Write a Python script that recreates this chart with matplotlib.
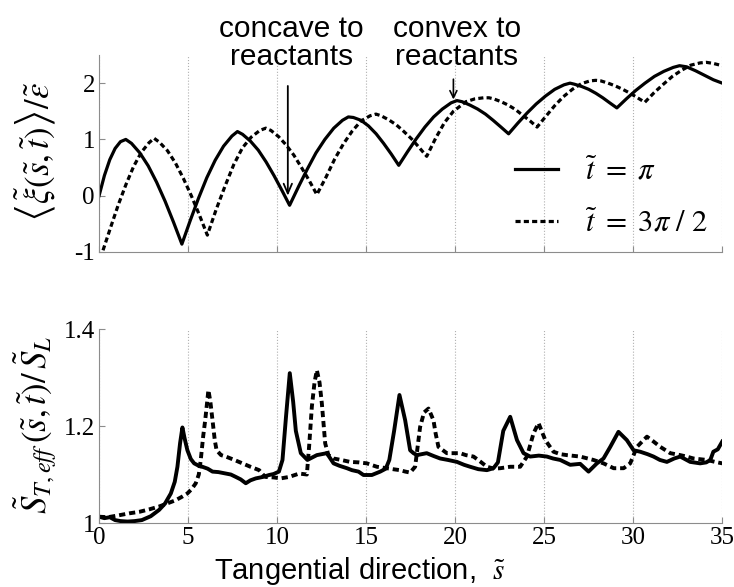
import matplotlib
matplotlib.use('Agg')
import matplotlib.pyplot as plt

plt.rcParams['font.family'] = ['Liberation Serif', 'DejaVu Serif']
plt.rcParams['mathtext.fontset'] = 'stix'
plt.rcParams['axes.unicode_minus'] = False

# top panel: mean flame displacement, t = pi (solid) and t = 3pi/2 (dashed)
s_top_pi = [0, 0.3, 0.6, 0.9, 1.2, 1.5, 1.82, 2.29, 2.76, 3.23, 3.71, 4.18, 4.65,
            5.12, 5.59, 6.05, 6.52, 6.99, 7.46, 7.77, 8.06, 8.50, 8.94, 9.38, 9.82,
            10.26, 10.7, 11.20, 11.69, 12.18, 12.68, 13.18, 13.67, 14.0, 14.28, 14.71,
            15.13, 15.56, 15.98, 16.41, 16.83, 17.32, 17.81, 18.30, 18.79, 19.28, 19.77,
            20.1, 20.39, 20.83, 21.26, 21.70, 22.13, 22.57, 23.0, 23.52, 24.04, 24.55,
            25.07, 25.59, 26.11, 26.45, 26.71, 27.11, 27.50, 27.90, 28.29, 28.68, 29.08,
            29.61, 30.14, 30.66, 31.19, 31.72, 32.25, 32.6, 33.0, 33.5, 34.0, 34.5, 35]
xi_top_pi = [0.0, 0.36, 0.64, 0.84, 0.96, 1.0, 0.93, 0.76, 0.53, 0.24, -0.10, -0.47, -0.86,
             -0.44, -0.04, 0.32, 0.63, 0.88, 1.06, 1.14, 1.09, 0.97, 0.81, 0.60, 0.36,
             0.10, -0.17, 0.16, 0.47, 0.76, 1.00, 1.20, 1.34, 1.40, 1.39, 1.34,
             1.24, 1.10, 0.93, 0.74, 0.54, 0.78, 1.01, 1.22, 1.40, 1.54, 1.65,
             1.69, 1.67, 1.61, 1.54, 1.45, 1.34, 1.22, 1.10, 1.29, 1.47, 1.63,
             1.77, 1.89, 1.97, 2.0, 1.98, 1.94, 1.89, 1.82, 1.74, 1.65, 1.56,
             1.72, 1.87, 2.00, 2.12, 2.21, 2.28, 2.31, 2.29, 2.22, 2.14, 2.06, 2.0]

s_top_3pi2 = [0.22, 0.65, 1.08, 1.51, 1.94, 2.37, 2.80, 3.09, 3.39, 3.84, 4.29, 4.73, 5.18,
              5.63, 6.08, 6.57, 7.06, 7.56, 8.05, 8.54, 9.03, 9.36, 9.65, 10.08, 10.51,
              10.94, 11.37, 11.80, 12.23, 12.73, 13.23, 13.72, 14.22, 14.72, 15.22, 15.55,
              15.84, 16.26, 16.69, 17.12, 17.55, 17.97, 18.4, 18.9, 19.4, 19.9, 20.6, 21.1,
              21.6, 21.9, 22.17, 22.58, 22.98, 23.39, 23.79, 24.20, 24.6, 25.09, 25.59,
              26.08, 26.58, 27.08, 27.57, 27.9, 28.18, 28.59, 29.00, 29.41, 29.83, 30.24,
              30.65, 31.17, 31.69, 32.20, 32.72, 33.24, 33.76, 34.1, 34.5, 35]
xi_top_3pi2 = [-0.97, -0.56, -0.16, 0.20, 0.52, 0.77, 0.94, 1.02, 0.95, 0.80, 0.58, 0.31, 0.00,
               -0.34, -0.70, -0.25, 0.16, 0.55, 0.85, 1.04, 1.16, 1.20, 1.16, 1.05, 0.90,
               0.72, 0.50, 0.27, 0.02, 0.32, 0.65, 0.92, 1.15, 1.33, 1.42, 1.45,
               1.42, 1.35, 1.26, 1.14, 1.01, 0.86, 0.70, 1.02, 1.30, 1.50, 1.67, 1.72,
               1.74, 1.74, 1.72, 1.67, 1.61, 1.53, 1.43, 1.33, 1.22, 1.41, 1.60,
               1.76, 1.89, 1.99, 2.04, 2.05, 2.04, 2.00, 1.95, 1.89, 1.82, 1.74,
               1.66, 1.83, 1.98, 2.12, 2.23, 2.32, 2.36, 2.37, 2.35, 2.31]

# bottom panel: effective turbulent flame speed ratio
s_bot_pi = [0, 0.3, 0.6, 0.9, 1.2, 1.6, 2.0, 2.4, 2.9, 3.37,
            3.7, 4.03, 4.25, 4.4, 4.55, 4.68, 4.8, 4.96, 5.15, 5.34,
            5.6, 5.8, 6.1, 6.37, 6.7, 7.12, 7.4, 7.68, 7.95, 8.24,
            8.5, 8.8, 9.2, 9.55, 9.8, 10.1, 10.3, 10.5, 10.71, 10.9,
            11.05, 11.33, 11.7, 12.23, 12.79, 13.17, 13.5, 13.92, 14.2, 14.57,
            14.85, 15.32, 15.79, 16.1, 16.3, 16.57, 16.87, 17.19, 17.47, 17.66,
            17.85, 18.4, 18.8, 19.16, 19.6, 20.1, 20.5, 20.84, 21.3, 21.78,
            22.15, 22.4, 22.7, 23.09, 23.47, 23.84, 24.21, 24.7, 25.15, 25.5,
            25.9, 26.46, 27.02, 27.49, 27.96, 28.33, 28.71, 29.17, 29.64, 30.02,
            30.39, 30.8, 31.14, 31.5, 31.89, 32.3, 32.64, 33.2, 33.76, 34.1,
            34.33, 34.5, 34.75, 35]
S_bot_pi = [1.013, 1.010, 1.012, 1.006, 1.004, 1.003, 1.004, 1.006, 1.014, 1.027,
            1.040, 1.061, 1.085, 1.116, 1.165, 1.197, 1.175, 1.150, 1.132, 1.123,
            1.118, 1.116, 1.112, 1.106, 1.105, 1.102, 1.100, 1.095, 1.090, 1.082,
            1.088, 1.092, 1.095, 1.099, 1.101, 1.106, 1.130, 1.220, 1.309, 1.250,
            1.190, 1.144, 1.130, 1.140, 1.144, 1.123, 1.118, 1.113, 1.109, 1.106,
            1.099, 1.099, 1.106, 1.112, 1.130, 1.190, 1.264, 1.212, 1.150, 1.144,
            1.140, 1.144, 1.138, 1.133, 1.130, 1.126, 1.120, 1.116, 1.111, 1.109,
            1.113, 1.125, 1.190, 1.219, 1.171, 1.144, 1.137, 1.139, 1.137, 1.133,
            1.130, 1.120, 1.122, 1.106, 1.123, 1.133, 1.157, 1.188, 1.171, 1.150,
            1.147, 1.142, 1.137, 1.130, 1.126, 1.133, 1.137, 1.126, 1.123, 1.125,
            1.130, 1.147, 1.152, 1.168]

s_bot_3pi2 = [0, 0.5, 1.12, 1.7, 2.25, 2.8, 3.37, 3.8, 4.3, 4.65,
              4.96, 5.2, 5.43, 5.6, 5.71, 5.85, 5.96, 6.14, 6.25, 6.37,
              6.5, 6.6, 6.85, 7.12, 7.6, 8.05, 8.5, 8.99, 9.2, 9.36,
              9.8, 10.2, 10.67, 11.24, 11.67, 11.8, 11.95, 12.1, 12.23, 12.38,
              12.51, 12.7, 12.88, 13.17, 13.6, 14.1, 14.6, 15.04, 15.6, 16.16,
              16.5, 16.9, 17.2, 17.47, 17.75, 17.9, 18.03, 18.25, 18.5, 18.78,
              18.9, 19.06, 19.53, 20.28, 20.6, 21.03, 21.4, 21.78, 22.2, 22.53,
              23.09, 23.65, 24.03, 24.4, 24.68, 25.06, 25.52, 25.9, 26.27, 27.02,
              27.77, 28.33, 28.9, 29.46, 29.83, 30.21, 30.5, 30.77, 31.14, 31.52,
              32.08, 32.64, 33.0, 33.39, 34.14, 34.6, 35]
S_bot_3pi2 = [1.013, 1.012, 1.016, 1.020, 1.023, 1.028, 1.034, 1.040, 1.047, 1.054,
              1.061, 1.070, 1.082, 1.100, 1.130, 1.180, 1.212, 1.274, 1.250, 1.212,
              1.170, 1.150, 1.140, 1.137, 1.130, 1.123, 1.116, 1.109, 1.100, 1.095,
              1.094, 1.092, 1.095, 1.102, 1.100, 1.160, 1.240, 1.290, 1.315, 1.290,
              1.247, 1.164, 1.140, 1.133, 1.130, 1.126, 1.125, 1.123, 1.116, 1.113,
              1.111, 1.109, 1.106, 1.104, 1.116, 1.160, 1.198, 1.228, 1.236, 1.212,
              1.185, 1.157, 1.144, 1.144, 1.140, 1.137, 1.127, 1.116, 1.112, 1.113,
              1.116, 1.116, 1.137, 1.185, 1.206, 1.171, 1.147, 1.142, 1.140, 1.137,
              1.130, 1.123, 1.113, 1.113, 1.123, 1.157, 1.168, 1.178, 1.168, 1.157,
              1.144, 1.140, 1.137, 1.133, 1.130, 1.126, 1.123]

DASH = (0, (1.6, 1.0))
GRAY = '#8c8c8c'


def style(ax):
    for side in ('top', 'right'):
        ax.spines[side].set_visible(False)
    for side in ('left', 'bottom'):
        ax.spines[side].set_color(GRAY)
    ax.tick_params(direction='in', length=4, color=GRAY, labelsize=18, pad=3)
    ax.set_xlim(0, 35)
    ax.set_xticks(range(0, 36, 5))
    ax.grid(axis='x', ls=':', color='#b0b0b0', lw=0.8)
    ax.set_axisbelow(True)


fig = plt.figure(figsize=(7.34, 5.87), dpi=100)
ax1 = fig.add_axes([0.135, 0.5707, 0.849, 0.3356])
ax2 = fig.add_axes([0.135, 0.109, 0.849, 0.3305])

style(ax1)
ax1.plot(s_top_pi, xi_top_pi, color='k', lw=2.3, label=r'$\tilde{t}\ =\ \pi$')
ax1.plot(s_top_3pi2, xi_top_3pi2, color='k', lw=2.3, ls=DASH,
         label=r'$\tilde{t}\ =\ 3\pi\ /\ 2$')
ax1.set_ylim(-1, 2.5)
ax1.set_yticks([-1, 0, 1, 2])
ax1.tick_params(axis='x', labelbottom=False)
ax1.legend(loc='lower right', bbox_to_anchor=(1.0, 0.0), frameon=False, fontsize=22,
           handlelength=1.4, handletextpad=0.9, labelspacing=0.75, borderaxespad=0.05)

ax1.annotate('', xy=(10.6, 0.0), xytext=(10.6, 1.95),
             arrowprops=dict(arrowstyle='->,head_length=0.7,head_width=0.3', lw=1.3,
                             color='k', shrinkA=0, shrinkB=0))
ax1.text(10.8, 2.22, 'concave to\nreactants', ha='center', va='bottom', fontsize=21.5,
         family='Liberation Sans', linespacing=1.0, clip_on=False)
ax1.annotate('', xy=(19.9, 1.71), xytext=(19.9, 2.07),
             arrowprops=dict(arrowstyle='->,head_length=0.5,head_width=0.25', lw=1.2,
                             color='k', shrinkA=0, shrinkB=0))
ax1.text(20.1, 2.22, 'convex to\nreactants', ha='center', va='bottom', fontsize=21.5,
         family='Liberation Sans', linespacing=1.0, clip_on=False)

style(ax2)
ax2.plot(s_bot_pi, S_bot_pi, color='k', lw=2.8)
ax2.plot(s_bot_3pi2, S_bot_3pi2, color='k', lw=2.8, ls=DASH)
ax2.set_ylim(1, 1.4)
ax2.set_yticks([1, 1.2, 1.4])
ax2.set_yticklabels(['1', '1.2', '1.4'])

fig.text(36 / 734, 1 - 152 / 587,
         r'$\left\langle \tilde{\xi}\left(\tilde{s},\tilde{t}\right)\right\rangle / \tilde{\varepsilon}$',
         rotation=90, ha='center', va='center', fontsize=25)
fig.text(36 / 734, 1 - 425 / 587,
         r'$\tilde{S}_{T,eff}\,\left(\tilde{s},\tilde{t}\right)/\,\tilde{S}_L$',
         rotation=90, ha='center', va='center', fontsize=25)
fig.text(360 / 734, 1 - 571 / 587, r'Tangential direction,  $\tilde{s}$',
         ha='center', va='center', fontsize=21, family='Liberation Sans')

fig.savefig('out.png', dpi=100)
